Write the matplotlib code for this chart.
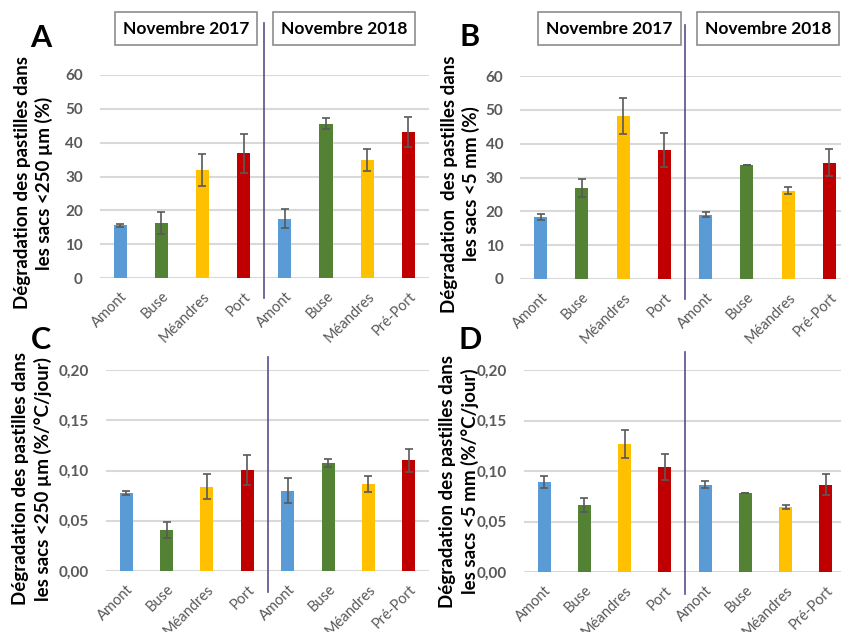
import matplotlib
matplotlib.use("Agg")
import matplotlib.pyplot as plt
from matplotlib.patches import Rectangle
from matplotlib.transforms import blended_transform_factory

plt.rcParams['font.family'] = ['Lato', 'DejaVu Sans']

# sites, 2017 campaign then 2018 campaign
sites = ["Amont", "Buse", "Méandres", "Port", "Amont", "Buse", "Méandres", "Pré-Port"]
colors = ["#5B9BD5", "#548235", "#FFC000", "#C00000"] * 2

# A : sacs <250 µm (%)
deg_250 = [15.6, 16.3, 32.0, 36.8, 17.5, 45.6, 34.9, 43.2]
err_250 = [0.5, 3.2, 4.7, 5.7, 2.8, 1.7, 3.2, 4.4]

# B : sacs <5 mm (%)
deg_5 = [18.3, 26.9, 48.2, 38.1, 19.0, 33.7, 26.1, 34.3]
err_5 = [1.0, 2.7, 5.4, 5.0, 0.8, 0.0, 1.0, 4.0]

# C : sacs <250 µm (%/°C/jour)
rate_250 = [0.078, 0.041, 0.084, 0.1005, 0.080, 0.1075, 0.0866, 0.110]
rate_250_err = [0.002, 0.008, 0.0125, 0.015, 0.0128, 0.0036, 0.008, 0.0115]

# D : sacs <5 mm (%/°C/jour)
rate_5 = [0.0889, 0.0666, 0.1266, 0.1038, 0.0866, 0.078, 0.0641, 0.0863]
rate_5_err = [0.0058, 0.007, 0.014, 0.013, 0.0038, 0.0, 0.002, 0.0103]

W, H = 841, 632
fig = plt.figure(figsize=(W / 100, H / 100), dpi=100)

grey = "#595959"
grid_c = "#D9D9D9"


def px_axes(left, right, y0, ytop):
    return fig.add_axes([left / W, 1 - y0 / H, (right - left) / W, (y0 - ytop) / H])


def panel(ax, vals, errs, ymax, step, fmt, ylabel, lab_xy, sep_top, sep_bot):
    x = list(range(len(vals)))
    ax.bar(x, vals, width=0.32, color=colors, zorder=3)
    ax.errorbar(x, vals, yerr=errs, fmt="none", ecolor=grey, elinewidth=1.2,
                capsize=3, capthick=1.2, zorder=4)
    ax.set_xlim(-0.5, 7.5)
    ax.set_ylim(0, ymax)
    ticks = [i * step for i in range(int(round(ymax / step)) + 1)]
    ax.set_yticks(ticks)
    ax.set_yticklabels([fmt(t) for t in ticks], fontweight="bold", color=grey, fontsize=11)
    ax.set_xticks(x)
    ax.set_xticklabels(sites, rotation=45, ha="right", va="top", rotation_mode="anchor",
                       color=grey, fontsize=10.5)
    for s in ax.spines.values():
        s.set_visible(False)
    ax.tick_params(axis="both", length=0)
    ax.tick_params(axis="y", pad=12)
    ax.tick_params(axis="x", pad=8)
    ax.yaxis.grid(True, color=grid_c, lw=1.5, zorder=0)
    ax.set_axisbelow(True)
    ax.set_ylabel(ylabel, fontweight="bold", fontsize=13.5, linespacing=1.3)
    ax.yaxis.set_label_coords(*lab_xy)
    tr = blended_transform_factory(ax.transData, ax.transAxes)
    ax.plot([3.5, 3.5], [sep_bot, sep_top], color="#5E4B8B", lw=1.2, transform=tr,
            clip_on=False, zorder=5)


pct = lambda t: f"{t:.0f}"
dec = lambda t: f"{t:.2f}".replace(".", ",")

axA = px_axes(99.5, 429, 278, 75)
panel(axA, deg_250, err_250, 60, 10, pct,
      "Dégradation des pastilles dans\nles sacs <250 µm (%)", (-0.14, 0.468), 1.256, -0.098)
axB = px_axes(520, 850, 279, 76)
panel(axB, deg_5, err_5, 60, 10, pct,
      "Dégradation  des pastilles dans\nles sacs <5 mm (%)", (-0.12, 0.468), 1.25, -0.1)
axC = px_axes(106, 429, 571, 370)
panel(axC, rate_250, rate_250_err, 0.20, 0.05, dec,
      "Dégradation des pastilles dans\nles sacs <250 µm (%/°C/jour)", (-0.167, 0.458), 1.065, -0.104)
axD = px_axes(524, 846, 572, 370)
panel(axD, rate_5, rate_5_err, 0.20, 0.05, dec,
      "Dégradation des pastilles dans\nles sacs <5 mm (%/°C/jour)", (-0.14, 0.45), 1.09, -0.109)

# year boxes
boxes = [(115, 257, "Novembre 2017"), (273, 415, "Novembre 2018"),
         (538, 681, "Novembre 2017"), (697, 839, "Novembre 2018")]
for x0, x1, label in boxes:
    fig.patches.append(Rectangle((x0 / W, 1 - 44.5 / H), (x1 - x0) / W, 32.5 / H,
                                 transform=fig.transFigure, fill=False,
                                 edgecolor="#8C8C8C", lw=1.2))
    fig.text((x0 + x1) / 2 / W, 1 - 28.5 / H, label, ha="center", va="center",
             fontweight="bold", fontsize=12.5)

# panel letters
for xc, yc, letter in [(41, 38, "A"), (470, 37, "B"), (41, 340, "C"), (470, 340, "D")]:
    fig.text(xc / W, 1 - yc / H, letter, ha="center", va="center",
             fontweight="bold", fontsize=22)

fig.savefig("out.png", dpi=100)
